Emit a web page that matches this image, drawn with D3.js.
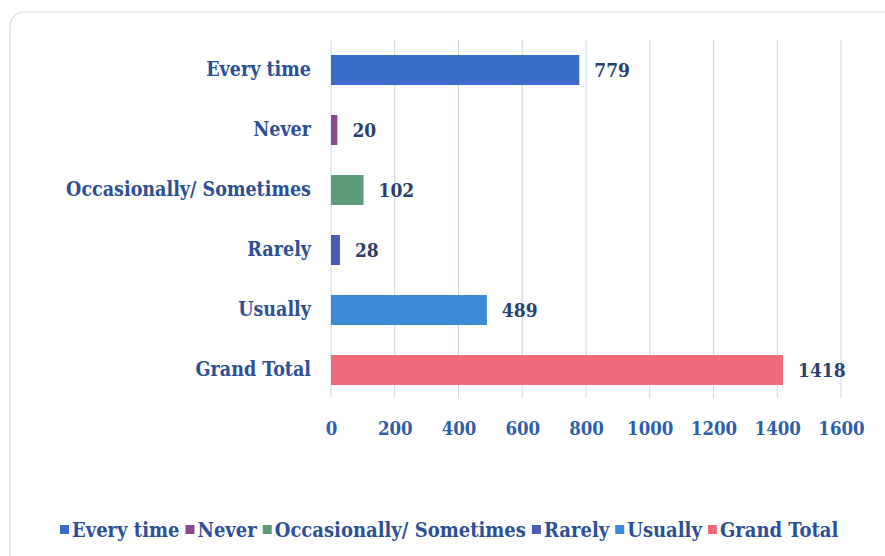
<!DOCTYPE html>
<html>
<head>
<meta charset="utf-8">
<script src="https://cdn.jsdelivr.net/npm/d3@7"></script>
<style>
  body { margin: 0; background: #fff; }
  text { font-family: "DejaVu Serif Condensed", "DejaVu Serif", serif; font-weight: bold; }
</style>
</head>
<body>
<div id="chart"></div>
<script>
const categories = ["Every time", "Never", "Occasionally/ Sometimes", "Rarely", "Usually", "Grand Total"];
const values = [779, 20, 102, 28, 489, 1418];
const colors = ["#3b6cc9", "#8a4a8c", "#5c9c78", "#4a5bb5", "#3b8bd6", "#f06b7a"];
const xTicks = [0, 200, 400, 600, 800, 1000, 1200, 1400, 1600];

const data = categories.map((c, i) => ({ category: c, value: values[i], color: colors[i] }));

const fontStack = "DejaVu Serif Condensed, DejaVu Serif, serif";

let dimensions = {
  width: 885,
  height: 556,
  margin: { top: 40, right: 44, bottom: 158, left: 331 },
};
dimensions.boundedWidth = dimensions.width - dimensions.margin.left - dimensions.margin.right;
dimensions.boundedHeight = dimensions.height - dimensions.margin.top - dimensions.margin.bottom;

const wrapper = d3.select("#chart")
  .append("svg")
  .attr("width", dimensions.width)
  .attr("height", dimensions.height);

// card outline
wrapper.append("rect")
  .attr("x", 10).attr("y", 12)
  .attr("width", 900).attr("height", 560)
  .attr("rx", 14)
  .attr("fill", "none")
  .attr("stroke", "#d8dde6")
  .attr("stroke-width", 1.2);

const bounds = wrapper.append("g")
  .attr("transform", `translate(${dimensions.margin.left},${dimensions.margin.top})`);

const xScale = d3.scaleLinear()
  .domain([0, 1600])
  .range([0, dimensions.boundedWidth]);

const yScale = d3.scaleBand()
  .domain(categories)
  .range([0, 360])
  .paddingInner(0.5)
  .paddingOuter(0.25);

// gridlines
bounds.append("g")
  .selectAll("line")
  .data(xTicks)
  .join("line")
  .attr("x1", d => xScale(d))
  .attr("x2", d => xScale(d))
  .attr("y1", 0)
  .attr("y2", dimensions.boundedHeight)
  .attr("stroke", "#cdd7ea")
  .attr("stroke-width", 1);

// x axis labels
const xAxis = bounds.append("g")
  .attr("transform", `translate(0,${dimensions.boundedHeight})`)
  .call(d3.axisBottom(xScale).tickValues(xTicks).tickFormat(d3.format("d")).tickSize(0).tickPadding(24));
xAxis.select(".domain").remove();
xAxis.selectAll("text")
  .attr("fill", "#2f5fa8")
  .style("font-size", "18.5px")
  .style("font-family", fontStack)
  .style("font-weight", "bold");

// y axis labels
const yAxis = bounds.append("g")
  .call(d3.axisLeft(yScale).tickSize(0).tickPadding(20));
yAxis.select(".domain").remove();
yAxis.selectAll("text")
  .attr("fill", "#2c4f95")
  .style("font-size", "19.5px")
  .style("font-family", fontStack)
  .style("font-weight", "bold");

// bars
bounds.append("g")
  .selectAll("rect")
  .data(data)
  .join("rect")
  .attr("x", 0)
  .attr("y", d => yScale(d.category))
  .attr("width", d => xScale(d.value))
  .attr("height", yScale.bandwidth())
  .attr("fill", d => d.color);

// value labels
bounds.append("g")
  .selectAll("text")
  .data(data)
  .join("text")
  .attr("x", d => xScale(d.value) + 15)
  .attr("y", d => yScale(d.category) + yScale.bandwidth() / 2)
  .attr("dy", "0.35em")
  .attr("fill", "#2a3f6c")
  .style("font-size", "19px")
  .text(d => d.value);

// legend
const legend = wrapper.append("g")
  .attr("transform", "translate(0,530)");
let lx = 60;
data.forEach(d => {
  const item = legend.append("g").attr("transform", `translate(${lx},0)`);
  item.append("rect")
    .attr("x", 0).attr("y", -5)
    .attr("width", 9).attr("height", 9)
    .attr("fill", d.color);
  const t = item.append("text")
    .attr("x", 12)
    .attr("dy", "0.35em")
    .attr("fill", "#2c4f95")
    .style("font-size", "20px")
    .text(d.category);
  lx += 12 + t.node().getComputedTextLength() + 6;
});
</script>
</body>
</html>
